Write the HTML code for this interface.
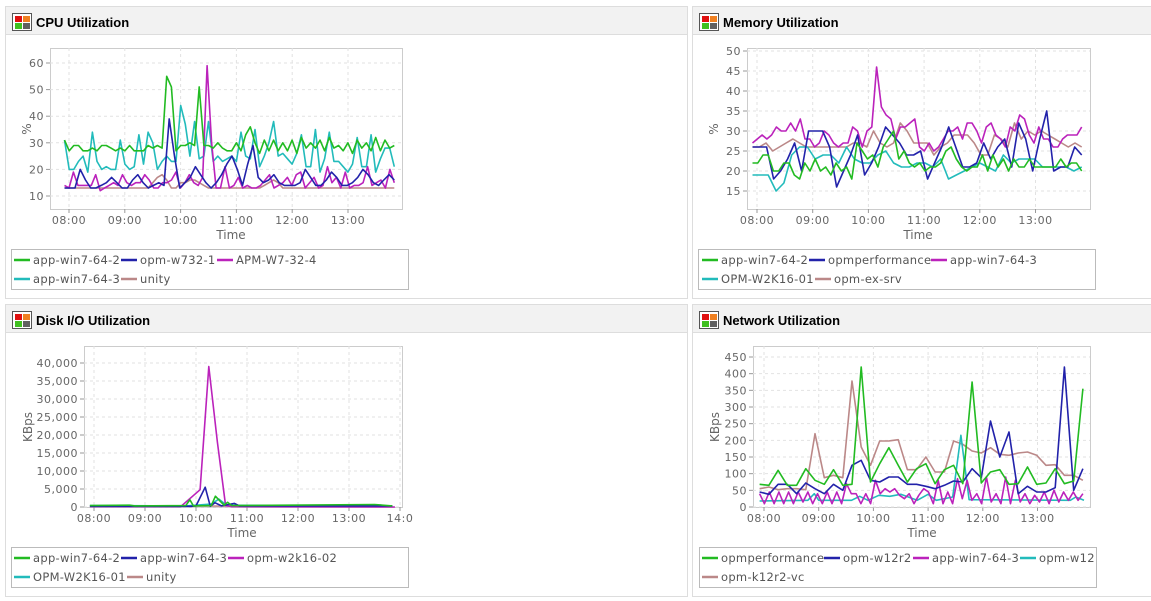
<!DOCTYPE html>
<html><head><meta charset="utf-8"><style>
html,body{margin:0;padding:0;background:#fff;}
svg{display:block;}
text{font-family:"DejaVu Sans","Liberation Sans",sans-serif;}
.t{font-family:"Liberation Sans",sans-serif;font-weight:bold;font-size:13px;fill:#000;}
.tk{font-size:11px;fill:#666;letter-spacing:0.5px;}
.lg{font-size:11.5px;fill:#555;letter-spacing:0.3px;}
.ax{font-size:12px;fill:#666;}
</style></head><body>
<svg id="s" width="1151" height="601" xmlns="http://www.w3.org/2000/svg">
<rect x="5.5" y="6.5" width="682" height="292" fill="#fff" stroke="#ddd"/>
<rect x="6" y="7" width="681" height="27" fill="#f2f2f2"/><line x1="6" y1="34.5" x2="687" y2="34.5" stroke="#ddd"/>
<rect x="692.5" y="6.5" width="460" height="292" fill="#fff" stroke="#ddd"/>
<rect x="693" y="7" width="459" height="27" fill="#f2f2f2"/><line x1="693" y1="34.5" x2="1151" y2="34.5" stroke="#ddd"/>
<rect x="5.5" y="304.5" width="682" height="292" fill="#fff" stroke="#ddd"/>
<rect x="6" y="305" width="681" height="27" fill="#f2f2f2"/><line x1="6" y1="332.5" x2="687" y2="332.5" stroke="#ddd"/>
<rect x="692.5" y="304.5" width="460" height="292" fill="#fff" stroke="#ddd"/>
<rect x="693" y="305" width="459" height="27" fill="#f2f2f2"/><line x1="693" y1="332.5" x2="1151" y2="332.5" stroke="#ddd"/>
<g id="icons"></g>
<text class="t" x="36" y="27">CPU Utilization</text>
<text class="t" x="723" y="27">Memory Utilization</text>
<text class="t" x="36" y="325">Disk I/O Utilization</text>
<text class="t" x="723" y="325">Network Utilization</text>
<g id="charts"></g>
<text class="ax" x="231" y="239" text-anchor="middle">Time</text>
<text class="ax" x="918" y="239" text-anchor="middle">Time</text>
<text class="ax" x="242" y="537" text-anchor="middle">Time</text>
<text class="ax" x="922" y="537" text-anchor="middle">Time</text>
<text class="ax" transform="translate(31,129) rotate(-90)" text-anchor="middle">%</text>
<text class="ax" transform="translate(718,129) rotate(-90)" text-anchor="middle">%</text>
<text class="ax" transform="translate(32,427) rotate(-90)" text-anchor="middle">KBps</text>
<text class="ax" transform="translate(719,427) rotate(-90)" text-anchor="middle">KBps</text>
<rect x="11.5" y="249.5" width="397" height="40" fill="none" stroke="#bbb"/>
<text class="lg" x="33" y="264">app-win7-64-2</text><text class="lg" x="140" y="264">opm-w732-1</text><text class="lg" x="236" y="264">APM-W7-32-4</text>
<text class="lg" x="33" y="283">app-win7-64-3</text><text class="lg" x="140" y="283">unity</text>
<rect x="698.5" y="249.5" width="397" height="40" fill="none" stroke="#bbb"/>
<text class="lg" x="721" y="264">app-win7-64-2</text><text class="lg" x="828" y="264">opmperformance</text><text class="lg" x="950" y="264">app-win7-64-3</text>
<text class="lg" x="721" y="283">OPM-W2K16-01</text><text class="lg" x="834" y="283">opm-ex-srv</text>
<rect x="11.5" y="547.5" width="397" height="40" fill="none" stroke="#bbb"/>
<text class="lg" x="33" y="562">app-win7-64-2</text><text class="lg" x="140" y="562">app-win7-64-3</text><text class="lg" x="247" y="562">opm-w2k16-02</text>
<text class="lg" x="33" y="581">OPM-W2K16-01</text><text class="lg" x="146" y="581">unity</text>
<rect x="699.5" y="547.5" width="397" height="40" fill="none" stroke="#bbb"/>
<text class="lg" x="721" y="562">opmperformance</text><text class="lg" x="843" y="562">opm-w12r2</text><text class="lg" x="932" y="562">app-win7-64-3</text><text class="lg" x="1039" y="562">opm-w12</text>
<text class="lg" x="721" y="581">opm-k12r2-vc</text>
<g id="leg"></g>
</svg>
<script>
var NS="http://www.w3.org/2000/svg",S=document.getElementById('s');
var CH=document.getElementById('charts'),LG=document.getElementById('leg'),IC=document.getElementById('icons');
function el(n,a,p){var e=document.createElementNS(NS,n);for(var k in a)e.setAttribute(k,a[k]);(p||CH).appendChild(e);return e;}
var G='#22bb22',B='#2222aa',M='#bb22bb',C='#22bbbb',R='#bb8888';
[[12,13],[699,13],[12,311],[699,311]].forEach(function(p){var x=p[0],y=p[1];
el('rect',{x:x+.5,y:y+.5,width:19,height:17,fill:'#fff',stroke:'#555'},IC);
el('rect',{x:x+3,y:y+3,width:7,height:6,fill:'#e01010'},IC);el('rect',{x:x+11,y:y+3,width:7,height:6,fill:'#f08020'},IC);
el('rect',{x:x+3,y:y+10,width:7,height:6,fill:'#40c020'},IC);el('rect',{x:x+11,y:y+10,width:7,height:6,fill:'#606060'},IC);});
function leg(items){items.forEach(function(i){el('line',{x1:i[0],y1:i[1],x2:i[0]+16,y2:i[1],stroke:i[2],'stroke-width':2.5},LG);});}
leg([[14,260,G],[121,260,B],[217,260,M],[14,279,C],[121,279,R]]);
leg([[702,260,G],[809,260,B],[931,260,M],[702,279,C],[815,279,R]]);
leg([[14,558,G],[121,558,B],[228,558,M],[14,577,C],[127,577,R]]);
leg([[702,558,G],[824,558,B],[913,558,M],[1020,558,C],[702,577,R]]);
function chart(o){
 var X=function(h){return o.x8+(h-8)*o.hw;},Y=function(v){return o.y0+(v-o.v0)*(o.y1-o.y0)/(o.v1-o.v0);};
 el('rect',{x:o.L+.5,y:o.T+.5,width:o.R-o.L,height:o.Bm-o.T,fill:'#fff',stroke:'#ccc'});
 o.hours.forEach(function(h,i){var x=X(h);el('line',{x1:x,y1:o.T,x2:x,y2:o.Bm,stroke:'#e2e2e2','stroke-dasharray':'3,3'});
  el('line',{x1:x,y1:o.Bm,x2:x,y2:o.Bm+4,stroke:'#999'});
  var t=el('text',{x:x,y:o.Bm+15,'text-anchor':'middle','class':'tk'});t.textContent=o.hl[i];});
 o.ticks.forEach(function(v,i){var y=Y(v);el('line',{x1:o.L,y1:y,x2:o.R,y2:y,stroke:'#e2e2e2','stroke-dasharray':'3,3'});
  el('line',{x1:o.L-4,y1:y,x2:o.L,y2:y,stroke:'#999'});
  var t=el('text',{x:o.L-6,y:y+4,'text-anchor':'end','class':'tk'});t.textContent=o.tl[i];});
 o.series.forEach(function(s){var pts=[];
  if(s.p){s.p.forEach(function(q){pts.push(X(q[0]).toFixed(1)+','+Y(q[1]).toFixed(1));});}
  else{var n=s.d.length,a=s.a||o.ta,b=s.b||o.tb;s.d.forEach(function(v,i){pts.push(X(a+(b-a)*i/(n-1)).toFixed(1)+','+Y(v).toFixed(1));});}
  el('polyline',{points:pts.join(' '),fill:'none',stroke:s.c,'stroke-width':1.6,'stroke-linejoin':'round'});});
}
var HL=['08:00','09:00','10:00','11:00','12:00','13:00'],H=[8,9,10,11,12,13];
chart({L:50,R:402,T:48,Bm:209,x8:69,hw:55.8,y0:196,y1:63,v0:10,v1:60,ta:7.92,tb:13.83,hours:H,hl:HL,
 ticks:[10,20,30,40,50,60],tl:['10','20','30','40','50','60'],series:[
 {c:R,d:[13,13,13,13,13,13,13,13,13,13,13,13,13,13,13,13,13,13,13,15,17,18,16,13,13,15,15,16,16,15,14,13,13,13,13,13,13,13,13,13,13,13,13,14,15,16,15,13,13,13,13,13,13,13,13,13,13,13,13,13,13,13,13,13,13,13,13,13,13,13,13,13]},
 {c:C,d:[31,20,20,23,25,19,34,23,20,21,20,20,31,22,20,21,33,22,34,30,20,23,25,23,23,44,37,25,38,24,25,38,23,25,23,24,25,23,34,25,24,35,21,25,30,38,25,26,24,22,26,33,21,21,35,19,24,34,23,23,21,19,22,32,21,21,33,19,24,28,28,21]},
 {c:M,d:[14,13,19,14,14,14,14,18,12,13,14,15,14,18,15,14,15,15,18,16,13,13,15,15,16,19,13,15,18,15,14,17,59,30,13,13,21,13,14,17,13,14,13,13,14,16,18,13,14,15,17,14,18,19,13,15,17,13,14,21,15,17,13,19,13,14,14,15,21,14,15,16,13,20,15]},
 {c:B,d:[13,13,13,20,16,13,13,14,15,17,15,13,13,16,18,15,13,14,15,14,39,25,13,15,17,21,18,15,13,15,18,22,25,20,14,22,29,17,15,16,18,15,14,14,14,15,20,17,14,14,16,19,17,14,14,15,17,20,18,15,14,16,18,16]},
 {c:G,d:[31,27,29,29,27,27,28,27,29,29,28,27,28,27,29,27,27,27,29,28,29,28,55,51,27,29,29,30,29,51,29,29,28,30,28,27,27,30,27,33,36,30,26,31,27,31,27,30,27,31,26,32,28,30,28,31,27,32,28,29,27,30,26,31,28,30,27,32,27,31,28,29]}]});
chart({L:747,R:1090,T:48,Bm:209,x8:757,hw:55.7,y0:191,y1:51,v0:15,v1:50,ta:7.92,tb:13.83,hours:H,hl:HL,
 ticks:[15,20,25,30,35,40,45,50],tl:['15','20','25','30','35','40','45','50'],series:[
 {c:R,d:[26,26,27,25,26,27,28,27,26,26,26,26,26,26,26,27,27,26,30,27,26,27,32,30,27,27,27,24,26,27,29,29,29,27,24,24,29,28,26,32,28,30,29,30,29,28,27,26,27,26]},
 {c:C,d:[19,19,19,15,17,24,26,26,23,24,24,22,26,23,22,22,24,25,22,21,21,22,22,21,23,18,19,20,21,22,21,20,24,22,23,23,23,21,21,21,21,20,21]},
 {c:M,d:[27,28,29,28,29,31,30,30,32,30,33,28,28,26,27,30,29,27,26,27,27,31,30,26,30,31,46,36,34,33,28,31,31,32,33,26,25,27,25,26,28,30,30,31,28,32,32,30,27,31,32,29,28,26,31,30,34,33,29,27,31,28,28,26,26,28,29,29,29,31]},
 {c:B,d:[26,26,26,18,20,23,27,20,30,30,30,26,16,20,24,29,19,22,26,31,29,27,24,24,25,18,22,26,31,26,21,21,22,27,23,26,28,21,32,28,20,28,35,20,21,21,26,24]},
 {c:G,d:[22,22,24,24,20,20,22,22,19,18,22,20,23,20,21,19,22,20,21,18,27,25,23,24,21,26,28,30,23,25,22,21,22,20,21,21,22,25,26,23,21,20,21,21,24,20,24,21,23,20,23,21,21,23,21,21,21,21,21,23,21,22,22,20]}]});
chart({L:84,R:402,T:346,Bm:507,x8:94,hw:51,y0:507,y1:363,v0:0,v1:40000,ta:7.92,tb:13.83,hours:[8,9,10,11,12,13,14],hl:HL.concat(['14:0']),
 ticks:[0,5000,10000,15000,20000,25000,30000,35000,40000],tl:['0','5,000','10,000','15,000','20,000','25,000','30,000','35,000','40,000'],series:[
 {c:R,p:[[7.92,300],[13.85,200]]},
 {c:C,p:[[7.92,400],[9.8,300],[10.3,800],[10.45,2200],[10.6,500],[13.85,300]]},
 {c:M,p:[[7.92,100],[9.7,100],[10.08,4800],[10.25,39000],[10.42,18000],[10.58,400],[10.7,100],[13.9,0]]},
 {c:B,p:[[7.92,200],[9.9,200],[10.0,300],[10.18,5500],[10.28,200],[10.37,1200],[10.5,300],[10.75,1000],[10.85,300],[13.85,300]]},
 {c:G,p:[[7.92,400],[8.7,500],[8.8,300],[9.8,400],[9.88,2000],[9.95,300],[10.3,400],[10.38,3000],[10.48,1500],[10.55,500],[10.62,1300],[10.7,400],[11.8,500],[13.5,700],[13.85,300]]}]});
chart({L:753,R:1090,T:346,Bm:507,x8:764,hw:54.7,y0:507,y1:357,v0:0,v1:450,ta:7.92,tb:13.83,hours:H,hl:HL,
 ticks:[0,50,100,150,200,250,300,350,400,450],tl:['0','50','100','150','200','250','300','350','400','450'],series:[
 {c:R,d:[55,60,52,55,55,52,220,88,95,88,378,180,125,198,198,202,112,112,150,105,105,198,188,168,162,178,158,155,162,165,155,125,127,95,95,80]},
 {c:C,p:[[7.92,18],[8.8,20],[8.92,40],[9.0,20],[9.6,20],[9.75,32],[9.9,20],[10.1,35],[10.3,32],[10.5,38],[10.8,20],[11.0,38],[11.15,20],[11.45,30],[11.6,215],[11.75,22],[13.6,20],[13.7,30],[13.85,20]]},
 {c:M,d:[40,10,45,10,45,10,45,10,45,15,45,10,40,10,45,10,45,10,70,40,40,10,40,10,80,40,55,45,55,35,25,40,10,35,55,45,10,80,10,45,10,85,25,80,20,40,10,90,15,40,10,90,10,80,15,40,10,35,15,45,10,50,15,45,20,45,20,40]},
 {c:B,d:[45,38,68,68,40,72,55,40,68,50,125,140,80,75,90,90,68,68,62,55,65,78,75,115,88,258,150,225,40,62,45,45,58,420,50,115]},
 {c:G,d:[68,65,110,65,65,115,80,68,112,65,68,420,75,130,178,125,75,115,130,70,112,125,70,375,72,105,112,68,70,120,68,72,115,70,78,355]}]});
</script>
</body></html>
